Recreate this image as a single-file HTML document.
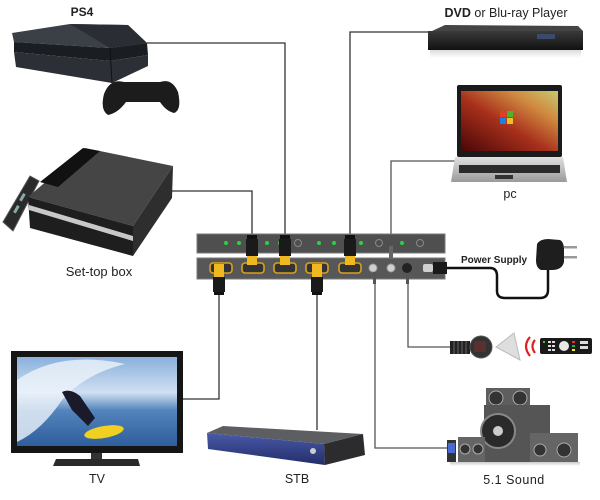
<!DOCTYPE html>
<html><head><meta charset="utf-8"><style>
html,body{margin:0;padding:0;background:#fff;}
svg{display:block;}
text{font-family:"Liberation Sans",sans-serif;fill:#222;}
</style></head><body>
<svg width="600" height="500" viewBox="0 0 600 500" xmlns="http://www.w3.org/2000/svg">
<defs>
<linearGradient id="lap" x1="0" y1="1" x2="1" y2="0">
<stop offset="0" stop-color="#4a0606"/><stop offset="0.45" stop-color="#a8301c"/><stop offset="0.75" stop-color="#d08a40"/><stop offset="1" stop-color="#c8c870"/></linearGradient>
<linearGradient id="sea" x1="0" y1="0" x2="0" y2="1">
<stop offset="0" stop-color="#8ab0dc"/><stop offset="0.4" stop-color="#d0e0f2"/><stop offset="0.6" stop-color="#5484bc"/><stop offset="1" stop-color="#2e5e9c"/></linearGradient>
<linearGradient id="stbf" x1="0" y1="0" x2="0" y2="1">
<stop offset="0" stop-color="#4a5aa8"/><stop offset="1" stop-color="#232d6a"/></linearGradient>
<linearGradient id="dvd" x1="0" y1="0" x2="0" y2="1">
<stop offset="0" stop-color="#3a3a3a"/><stop offset="1" stop-color="#111"/></linearGradient>
<linearGradient id="refl" x1="0" y1="0" x2="0" y2="1">
<stop offset="0" stop-color="#ccc"/><stop offset="1" stop-color="#fff"/></linearGradient>
<linearGradient id="silver" x1="0" y1="0" x2="0" y2="1">
<stop offset="0" stop-color="#e0e0e0"/><stop offset="1" stop-color="#9a9a9a"/></linearGradient>
</defs>

<!-- connector lines -->
<g fill="none" stroke="#333" stroke-width="1.3">
<path d="M147,43 H285 V236"/>
<path d="M172,191 H252 V236"/>
<path d="M428,32 H350 V236"/>
<path d="M460,161 H391 V262" stroke="#555"/>
<path d="M183,399 H219 V292"/>
<path d="M317,292 V430"/>
<path d="M375,280 V448 H452" stroke="#555"/>
<path d="M408,280 V347 H451" stroke="#555"/>
</g>
<path d="M446,268 H490 Q497,268 497,276 V291 Q497,298 505,298 H540 Q548,298 548,290 V268" fill="none" stroke="#111" stroke-width="2.5"/>

<!-- switch -->
<rect x="197" y="234" width="248" height="19" fill="#4f4f4f" stroke="#7a7a7a" stroke-width="1"/>
<rect x="197" y="258" width="248" height="21" fill="#575757" stroke="#7a7a7a" stroke-width="1"/>
<g fill="#2fd040">
<circle cx="226" cy="243" r="2"/><circle cx="239" cy="243" r="2"/><circle cx="267" cy="243" r="2"/><circle cx="280" cy="243" r="2"/>
<circle cx="319" cy="243" r="2"/><circle cx="334" cy="243" r="2"/><circle cx="361" cy="243" r="2"/><circle cx="402" cy="243" r="2"/>
</g>
<g fill="none" stroke="#888" stroke-width="1">
<circle cx="298" cy="243" r="3.5"/><circle cx="379" cy="243" r="3.5"/><circle cx="420" cy="243" r="3.5"/>
</g>
<g fill="#333" stroke="#d9a020" stroke-width="1.6">
<rect x="210" y="263" width="22" height="10" rx="3"/>
<rect x="242" y="263" width="22" height="10" rx="3"/>
<rect x="274" y="263" width="22" height="10" rx="3"/>
<rect x="306" y="263" width="22" height="10" rx="3"/>
<rect x="339" y="263" width="22" height="10" rx="3"/>
</g>
<!-- input plugs -->
<g>
<rect x="247" y="235" width="10" height="4" fill="#111"/><rect x="246" y="239" width="12" height="17" fill="#1a1a1a"/><rect x="247" y="256" width="10" height="9" fill="#f0b820"/>
<rect x="280" y="235" width="10" height="4" fill="#111"/><rect x="279" y="239" width="12" height="17" fill="#1a1a1a"/><rect x="280" y="256" width="10" height="9" fill="#f0b820"/>
<rect x="345" y="235" width="10" height="4" fill="#111"/><rect x="344" y="239" width="12" height="17" fill="#1a1a1a"/><rect x="345" y="256" width="10" height="9" fill="#f0b820"/>
<rect x="389" y="246" width="4" height="12" fill="#666"/>
</g>
<!-- output plugs -->
<g>
<rect x="214" y="264" width="10" height="13" fill="#f0b820"/><rect x="213" y="277" width="12" height="15" fill="#1a1a1a"/><rect x="214" y="292" width="10" height="3" fill="#111"/>
<rect x="312" y="264" width="10" height="13" fill="#f0b820"/><rect x="311" y="277" width="12" height="15" fill="#1a1a1a"/><rect x="312" y="292" width="10" height="3" fill="#111"/>
</g>
<circle cx="373" cy="268" r="4" fill="#d0d0d0" stroke="#999"/>
<circle cx="391" cy="268" r="4" fill="#d0d0d0" stroke="#999"/>
<circle cx="407" cy="268" r="5" fill="#222"/>
<rect x="373" y="272" width="3" height="12" fill="#555"/>
<rect x="406" y="273" width="3" height="11" fill="#555"/>
<rect x="423" y="264" width="10" height="8" rx="2" fill="#cfcfcf"/>
<rect x="433" y="262" width="14" height="12" fill="#1a1a1a"/>

<!-- power adapter -->
<path d="M537,244 Q540,239 548,239 L560,240 Q564,242 564,250 L564,262 Q562,270 552,270 L541,270 Q536,268 536,260 Z" fill="#1e1e1e"/>
<rect x="564" y="246" width="13" height="2.5" fill="#999"/>
<rect x="564" y="256" width="13" height="2.5" fill="#999"/>
<text x="461" y="263" font-size="10" font-weight="bold">Power Supply</text>

<!-- IR receiver -->
<rect x="450" y="341" width="20" height="13" fill="#222"/>
<g stroke="#666" stroke-width="1"><line x1="454" y1="341" x2="454" y2="354"/><line x1="458" y1="341" x2="458" y2="354"/><line x1="462" y1="341" x2="462" y2="354"/><line x1="466" y1="341" x2="466" y2="354"/></g>
<circle cx="481" cy="347" r="11" fill="#333" stroke="#555"/>
<rect x="474" y="341" width="12" height="11" rx="2" fill="#5a3030"/>
<polygon points="496,347 514,333 520,360" fill="#dedede" stroke="#bbb"/>
<g fill="none" stroke="#e02020" stroke-width="2.2">
<path d="M530,337 Q522,346 530,356"/><path d="M535,340 Q530,346 535,353"/>
</g>
<rect x="540" y="338" width="52" height="16" rx="2" fill="#1a1a1a"/>
<circle cx="564" cy="346" r="5" fill="#e8e8e8"/>
<g fill="#ddd"><rect x="548" y="341" width="3" height="2"/><rect x="552" y="341" width="3" height="2"/><rect x="548" y="345" width="3" height="2"/><rect x="552" y="345" width="3" height="2"/><rect x="548" y="349" width="3" height="2"/><rect x="552" y="349" width="3" height="2"/><rect x="580" y="341" width="8" height="3"/><rect x="580" y="346" width="8" height="3"/></g>
<rect x="572" y="341" width="3" height="2" fill="#d33"/><rect x="572" y="345" width="3" height="2" fill="#3a3"/><rect x="572" y="349" width="3" height="2" fill="#ee3"/><rect x="543" y="341" width="2" height="2" fill="#3c3"/>

<!-- PS4 -->
<text x="82" y="16" font-size="12" font-weight="bold" text-anchor="middle">PS4</text>
<polygon points="12,33 70,24 128,25 147,43 110,48 14,42" fill="#3b4047"/>
<polygon points="70,24 128,25 147,43 110,48" fill="#2a2e34"/>
<polygon points="14,42 110,48 147,43 148,55 110,61 14,52" fill="#1a1d22"/>
<polygon points="14,52 110,61 148,55 148,66 112,83 16,67" fill="#2c3036"/>
<line x1="110" y1="48" x2="112" y2="83" stroke="#111" stroke-width="1"/>
<path d="M104,94 Q110,78 124,82 L160,82 Q172,78 178,92 Q182,110 174,113 Q166,111 160,102 L126,102 Q118,113 108,115 Q100,110 104,94 Z" fill="#1c1c1c"/>

<!-- set-top box -->
<polygon points="3,222 30,176 39,181 13,231" fill="#2a2a2a" stroke="#555"/>
<g fill="#8aa"><rect x="18" y="196" width="8" height="3" transform="rotate(-60 22 197)"/><rect x="12" y="208" width="8" height="3" transform="rotate(-60 16 209)"/></g>
<polygon points="28,197 85,148 173,166 133,226" fill="#454545"/>
<polygon points="40,182 83,148 100,151 58,187" fill="#111"/>
<polygon points="28,197 133,226 133,256 30,228" fill="#1e1e1e"/>
<polygon points="29,205 133,236 133,241 29,210" fill="#c8c8c8"/>
<polygon points="133,226 173,166 172,198 133,256" fill="#2e2e2e"/>
<text x="99" y="276" font-size="13" text-anchor="middle">Set-top box</text>

<!-- DVD -->
<text x="506" y="17" font-size="12.5" text-anchor="middle"><tspan font-weight="bold">DVD</tspan> or Blu-ray Player</text>
<polygon points="432,31 445,25 578,26 583,31" fill="#444"/>
<rect x="428" y="31" width="155" height="19" fill="url(#dvd)"/>
<rect x="537" y="34" width="18" height="5" fill="#3a4a6a"/>
<rect x="430" y="50" width="151" height="8" fill="url(#refl)" opacity="0.7"/>

<!-- Laptop -->
<rect x="457" y="85" width="105" height="72" rx="2" fill="#1a1a1a"/>
<rect x="461" y="91" width="97" height="60" fill="url(#lap)"/>
<g><rect x="500" y="111" width="6" height="6" fill="#e04020"/><rect x="507" y="111" width="6" height="6" fill="#50b030"/><rect x="500" y="118" width="6" height="6" fill="#2080e0"/><rect x="507" y="118" width="6" height="6" fill="#f0c020"/></g>
<polygon points="455,157 563,157 567,182 451,182" fill="url(#silver)"/>
<rect x="459" y="165" width="101" height="8" fill="#2a2a2a"/>
<rect x="495" y="175" width="18" height="4" fill="#333"/>
<text x="510" y="198" font-size="12.5" text-anchor="middle">pc</text>

<!-- TV -->
<rect x="11" y="351" width="172" height="102" fill="#151515"/>
<rect x="17" y="357" width="160" height="89" fill="url(#sea)"/>
<path d="M17,380 Q60,350 125,364 Q85,374 62,400 Q42,430 17,442 Z" fill="#eef4fa" opacity="0.8"/>
<ellipse cx="104" cy="432" rx="20" ry="6" fill="#f0d020" transform="rotate(-10 104 432)"/>
<path d="M62,392 Q70,388 80,396 L95,418 L88,426 L72,410 Z" fill="#1a1a2a"/>
<rect x="91" y="453" width="11" height="7" fill="#333"/>
<polygon points="56,459 138,459 140,466 53,466" fill="#2a2a2a"/>
<text x="97" y="483" font-size="12.5" text-anchor="middle">TV</text>

<!-- STB -->
<polygon points="207,433 223,426 363,434 324,444" fill="#5c5e62"/>
<polygon points="207,433 324,444 325,465 208,449" fill="url(#stbf)"/>
<polygon points="324,444 363,434 365,455 325,465" fill="#2c2c2e"/>
<circle cx="313" cy="451" r="3" fill="#ccc"/>
<text x="297" y="483" font-size="12.5" text-anchor="middle">STB</text>

<!-- 5.1 Sound -->
<rect x="486" y="388" width="44" height="20" fill="#5e5e5e"/>
<circle cx="496" cy="398" r="7" fill="#333" stroke="#aaa"/><circle cx="520" cy="398" r="7" fill="#333" stroke="#aaa"/>
<rect x="484" y="405" width="66" height="57" fill="#555"/>
<circle cx="498" cy="431" r="17" fill="#2a2a2a" stroke="#888" stroke-width="2"/>
<circle cx="498" cy="431" r="5" fill="#ccc"/>
<rect x="458" y="437" width="27" height="25" fill="#656565"/>
<circle cx="465" cy="449" r="5" fill="#333" stroke="#aaa"/><circle cx="478" cy="449" r="5" fill="#333" stroke="#aaa"/>
<rect x="530" y="433" width="48" height="29" fill="#656565"/>
<circle cx="540" cy="450" r="6" fill="#333" stroke="#aaa"/><circle cx="564" cy="450" r="7" fill="#333" stroke="#aaa"/>
<rect x="447" y="440" width="9" height="22" fill="#333"/>
<rect x="448" y="443" width="7" height="10" fill="#4a6ad0"/>
<rect x="450" y="462" width="130" height="4" fill="url(#refl)"/>
<text x="514" y="484" font-size="12.5" text-anchor="middle" letter-spacing="0.5">5.1 Sound</text>
</svg>
</body></html>
